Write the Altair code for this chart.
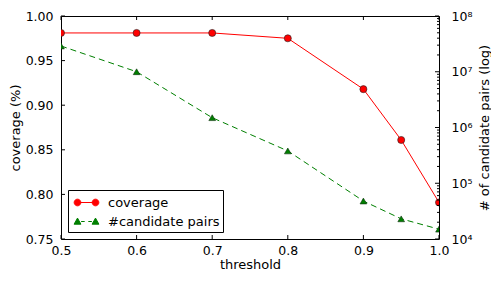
import altair as alt
import pandas as pd

# ---- data ----
threshold = [0.5, 0.6, 0.7, 0.8, 0.9, 0.95, 1.0]
coverage = [0.981, 0.981, 0.981, 0.975, 0.918, 0.861, 0.791]
cand_pairs = [2.9e7, 1.0e7, 1.5e6, 3.8e5, 4.8e4, 2.3e4, 1.5e4]

x_ticks = [0.5, 0.6, 0.7, 0.8, 0.9, 1.0]
cov_ticks = [0.75, 0.80, 0.85, 0.90, 0.95, 1.00]
log_major = [1e4, 1e5, 1e6, 1e7, 1e8]
log_labels = ["10⁴", "10⁵", "10⁶", "10⁷", "10⁸"]
log_minor = [m * 10 ** e for e in range(4, 8) for m in range(2, 10)]
series = ["coverage", "#candidate pairs"]

W, H = 378, 223
RED = "#ff0000"
GREEN = "#007f00"
FONT = "DejaVu Sans"

df = pd.DataFrame({"threshold": threshold, "coverage": coverage, "pairs": cand_pairs})
xt = pd.DataFrame({"threshold": x_ticks})
yt = pd.DataFrame({"coverage": cov_ticks})
lmaj = pd.DataFrame({"pairs": log_major})
lmin = pd.DataFrame({"pairs": log_minor})
leg = pd.DataFrame({"series": series})

xscale = alt.Scale(domain=[0.5, 1.0], nice=False, zero=False)
yscale = alt.Scale(domain=[0.75, 1.0], nice=False, zero=False)
lscale = alt.Scale(type="log", domain=[1e4, 1e8], nice=False)

label_expr = ("[" + ",".join("'%s'" % s for s in log_labels) + "][indexof(["
              + ",".join(str(int(v)) for v in log_major) + "], round(datum.value))]")

x_axis = alt.Axis(values=x_ticks, format=".1f", title="threshold",
                  ticks=False, domain=False, grid=False, labelFlush=False,
                  labelOverlap=False, labelPadding=5, titleX=W / 2, titleY=25.5,
                  titleBaseline="middle", titleAlign="center")
y_axis = alt.Axis(values=cov_ticks, format=".2f", title="coverage (%)",
                  ticks=False, domain=False, grid=False, labelPadding=8,
                  labelFlush=False, labelOverlap=False,
                  titleX=-46, titleY=H / 2, titleAngle=270,
                  titleBaseline="middle", titleAlign="center")
l_axis = alt.Axis(orient="right", values=log_major, labelExpr=label_expr,
                  title="# of candidate pairs (log)", ticks=False, domain=False,
                  grid=False, labelPadding=12, labelFlush=False, labelOverlap=False,
                  titleX=45.5, titleY=H / 2,
                  titleAngle=270, titleBaseline="middle", titleAlign="center")


def X():
    return alt.X("threshold:Q", scale=xscale, axis=x_axis)


def Y():
    return alt.Y("coverage:Q", scale=yscale, axis=y_axis)


def L():
    return alt.Y("pairs:Q", scale=lscale, axis=l_axis)


cov_line = alt.Chart(df).mark_line(color=RED, strokeWidth=1, clip=True).encode(x=X(), y=Y())
cov_pts = alt.Chart(df).mark_point(shape="circle", filled=True, fill=RED, stroke="#222222",
                                   strokeWidth=0.6, size=50, opacity=1, clip=True).encode(x=X(), y=Y())
xtick_b = alt.Chart(xt).mark_rule(color="black", strokeWidth=1).encode(
    x=X(), y=alt.value(H), y2=alt.value(H - 4))
xtick_t = alt.Chart(xt).mark_rule(color="black", strokeWidth=1).encode(
    x=X(), y=alt.value(0), y2=alt.value(4))
ytick = alt.Chart(yt).mark_rule(color="black", strokeWidth=1).encode(
    y=Y(), x=alt.value(0), x2=alt.value(4))

left = alt.layer(cov_line, cov_pts, ytick, xtick_b, xtick_t)

cand_line = alt.Chart(df).mark_line(color=GREEN, strokeWidth=1, strokeDash=[6, 4], clip=True).encode(
    x=X(), y=L())
cand_pts = alt.Chart(df).mark_point(shape="triangle-up", filled=True, fill=GREEN, stroke="#113311",
                                    strokeWidth=0.6, size=45, opacity=1, clip=True).encode(x=X(), y=L())
rmaj = alt.Chart(lmaj).mark_rule(color="black", strokeWidth=1).encode(
    y=L(), x=alt.value(W), x2=alt.value(W - 4))
rmin = alt.Chart(lmin).mark_rule(color="black", strokeWidth=1).encode(
    y=L(), x=alt.value(W), x2=alt.value(W - 2))

cov_sym = ("M-1,0L1,0 "
           "M-1.37,0A0.37,0.37 0 1,0 -0.63,0A0.37,0.37 0 1,0 -1.37,0Z "
           "M0.63,0A0.37,0.37 0 1,0 1.37,0A0.37,0.37 0 1,0 0.63,0Z")
cand_sym = ("M-0.6,0L-0.2,0M0.2,0L0.6,0 "
            "M-1,-0.38L-0.62,0.3L-1.38,0.3Z "
            "M1,-0.38L1.38,0.3L0.62,0.3Z")

legend = alt.Legend(title=None, orient="bottom-left", offset=7, padding=3,
                    symbolOffset=6, labelOffset=12, symbolSize=324, rowPadding=2,
                    strokeColor="black", fillColor="white", cornerRadius=0,
                    labelFontSize=13, labelFont=FONT, labelColor="black",
                    symbolStrokeWidth=1)
dom = alt.Scale(domain=series, range=[RED, GREEN])
dummy = alt.Chart(leg).mark_point(size=324, clip=True, strokeWidth=1, opacity=1).encode(
    x=alt.value(-500), y=alt.value(-500),
    stroke=alt.Stroke("series:N", scale=dom, legend=legend),
    fill=alt.Fill("series:N", scale=dom, legend=legend),
    shape=alt.Shape("series:N", scale=alt.Scale(domain=series, range=[cov_sym, cand_sym]), legend=legend),
)

right = alt.layer(cand_line, cand_pts, rmaj, rmin, dummy)

chart = alt.layer(left, right).resolve_scale(y="independent").properties(
    width=W, height=H,
    autosize=alt.AutoSizeParams(type="none"),
    padding={"left": 53, "top": 8, "right": 52, "bottom": 33},
).configure(font=FONT).configure_view(stroke="black", strokeWidth=1).configure_axis(
    labelFont=FONT, titleFont=FONT, labelFontSize=12.5, titleFontSize=13,
    titleFontWeight="normal", labelColor="black", titleColor="black",
)

chart.save("out.html", embed_options={"renderer": "svg", "actions": False})
